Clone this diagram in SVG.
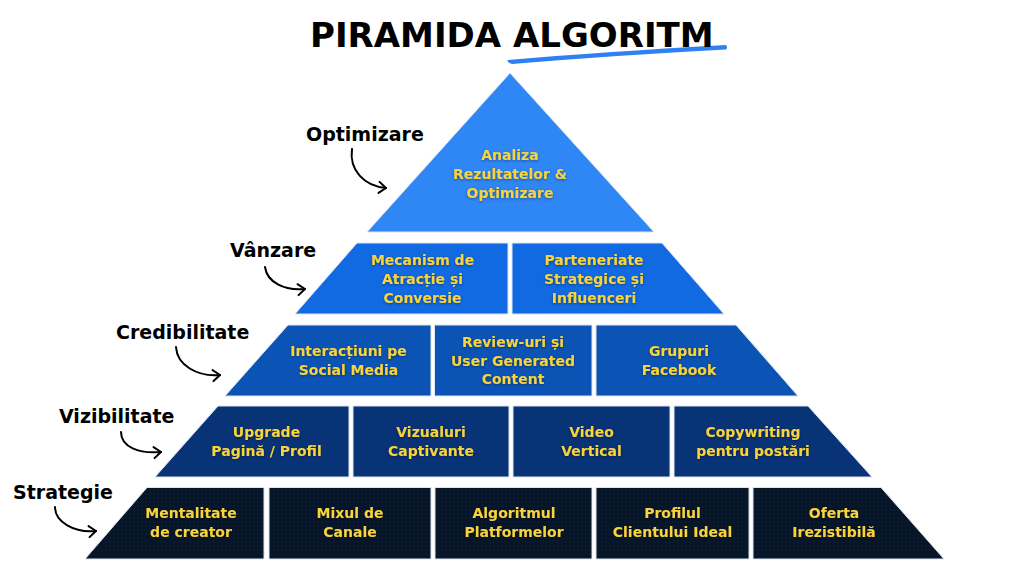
<svg xmlns="http://www.w3.org/2000/svg" width="1024" height="576" viewBox="0 0 1024 576">
<style>
.title{font-family:"DejaVu Sans","Liberation Sans",sans-serif;font-weight:bold;font-size:34px;fill:#000}
.lbl{font-family:"DejaVu Sans","Liberation Sans",sans-serif;font-weight:bold;font-size:19px;fill:#000}
.t{font-family:"DejaVu Sans","Liberation Sans",sans-serif;font-weight:bold;font-size:14px;fill:#f8d33c;text-anchor:middle;filter:url(#glow)}
.box{stroke:#dde5f0;stroke-width:1}
.c0{fill:#2f86f5}
.c1{fill:#116ae2}
.c2{fill:#0b54b6}
.c3{fill:#093377}
.c4{fill:url(#dots)}
.arr{fill:none;stroke:#000;stroke-width:2;stroke-linecap:round;marker-end:url(#head)}
</style>
<defs>
<filter id="glow" x="-20%" y="-40%" width="140%" height="180%">
<feDropShadow dx="0" dy="1" stdDeviation="1.4" flood-color="#000" flood-opacity="0.4"/>
</filter>
<pattern id="dots" width="4" height="4" patternUnits="userSpaceOnUse">
<rect width="4" height="4" fill="#071528"/>
<circle cx="2" cy="2" r="0.5" fill="#1a2a44"/>
</pattern>
<marker id="head" markerUnits="userSpaceOnUse" markerWidth="14" markerHeight="14" refX="10" refY="7" orient="auto">
<path d="M3,1.5 L10,7 L3,12.5" fill="none" stroke="#000" stroke-width="2" stroke-linecap="round" stroke-linejoin="round"/>
</marker>
</defs>
<rect width="1024" height="576" fill="#fff"/>

<g id="title">
<path d="M508,60 Q600,52 726,45 Q728,47.5 726,49.5 Q620,55 512,64 Q506,62 508,60 Z" fill="#2f80f2"/>
<text class="title" x="310" y="47">PIRAMIDA ALGORITM</text>
</g>

<g id="tier-optimizare">
<g id="node-analiza">
<polygon class="box c0" points="510,73 654,232 367,232"/>
<text class="t" x="510" y="160">Analiza</text>
<text class="t" x="510" y="179">Rezultatelor &amp;</text>
<text class="t" x="510" y="198">Optimizare</text>
</g>
</g>

<g id="tier-vanzare">
<g id="node-mecanism">
<polygon class="box c1" points="357,243 508,243 508,314 295,314"/>
<text class="t" x="422.5" y="265">Mecanism de</text>
<text class="t" x="422.5" y="284">Atracție și</text>
<text class="t" x="422.5" y="303">Conversie</text>
</g>
<g id="node-parteneriate">
<polygon class="box c1" points="512,243 662,243 724,314 512,314"/>
<text class="t" x="594" y="265">Parteneriate</text>
<text class="t" x="594" y="284">Strategice și</text>
<text class="t" x="594" y="303">Influenceri</text>
</g>
</g>

<g id="tier-credibilitate">
<g id="node-interactiuni">
<polygon class="box c2" points="288,325 431,325 431,396 225,396"/>
<text class="t" x="348.5" y="356">Interacțiuni pe</text>
<text class="t" x="348.5" y="375">Social Media</text>
</g>
<g id="node-review">
<polygon class="box c2" points="434.5,325 592,325 592,396 434.5,396"/>
<text class="t" x="513" y="347">Review-uri și</text>
<text class="t" x="513" y="365.5">User Generated</text>
<text class="t" x="513" y="384">Content</text>
</g>
<g id="node-grupuri">
<polygon class="box c2" points="596,325 736,325 798,396 596,396"/>
<text class="t" x="679" y="356">Grupuri</text>
<text class="t" x="679" y="375">Facebook</text>
</g>
</g>

<g id="tier-vizibilitate">
<g id="node-upgrade">
<polygon class="box c3" points="218,406 349,406 349,477 155,477"/>
<text class="t" x="266.5" y="437">Upgrade</text>
<text class="t" x="266.5" y="456">Pagină / Profil</text>
</g>
<g id="node-vizualuri">
<polygon class="box c3" points="353,406 509,406 509,477 353,477"/>
<text class="t" x="431" y="437">Vizualuri</text>
<text class="t" x="431" y="456">Captivante</text>
</g>
<g id="node-video">
<polygon class="box c3" points="513,406 670,406 670,477 513,477"/>
<text class="t" x="591.5" y="437">Video</text>
<text class="t" x="591.5" y="456">Vertical</text>
</g>
<g id="node-copywriting">
<polygon class="box c3" points="674,406 808,406 872,477 674,477"/>
<text class="t" x="753" y="437">Copywriting</text>
<text class="t" x="753" y="456">pentru postări</text>
</g>
</g>

<g id="tier-strategie">
<g id="node-mentalitate">
<polygon class="box c4" points="147,487.5 264,487.5 264,559 85,559"/>
<text class="t" x="191" y="518">Mentalitate</text>
<text class="t" x="191" y="537">de creator</text>
</g>
<g id="node-mixul">
<polygon class="box c4" points="269,487.5 431,487.5 431,559 269,559"/>
<text class="t" x="350" y="518">Mixul de</text>
<text class="t" x="350" y="537">Canale</text>
</g>
<g id="node-algoritmul">
<polygon class="box c4" points="435,487.5 592,487.5 592,559 435,559"/>
<text class="t" x="514" y="518">Algoritmul</text>
<text class="t" x="514" y="537">Platformelor</text>
</g>
<g id="node-profilul">
<polygon class="box c4" points="596,487.5 749,487.5 749,559 596,559"/>
<text class="t" x="672.5" y="518">Profilul</text>
<text class="t" x="672.5" y="537">Clientului Ideal</text>
</g>
<g id="node-oferta">
<polygon class="box c4" points="753,487.5 881,487.5 944,559 753,559"/>
<text class="t" x="834" y="518">Oferta</text>
<text class="t" x="834" y="537">Irezistibilă</text>
</g>
</g>

<g id="labels">
<text class="lbl" x="306" y="141">Optimizare</text>
<text class="lbl" x="230" y="257">Vânzare</text>
<text class="lbl" x="116" y="339">Credibilitate</text>
<text class="lbl" x="59" y="423">Vizibilitate</text>
<text class="lbl" x="13" y="499">Strategie</text>
</g>

<g id="connectors">
<path class="arr" d="M352,149 C349,170 364,186 386,188"/>
<path class="arr" d="M265,267 C267,282 284,291 305,289"/>
<path class="arr" d="M176,347 C177,365 197,377 220,375"/>
<path class="arr" d="M121,432 C121,447 139,454 161,452"/>
<path class="arr" d="M55,507 C55,522 74,533 96,531"/>
</g>
</svg>
